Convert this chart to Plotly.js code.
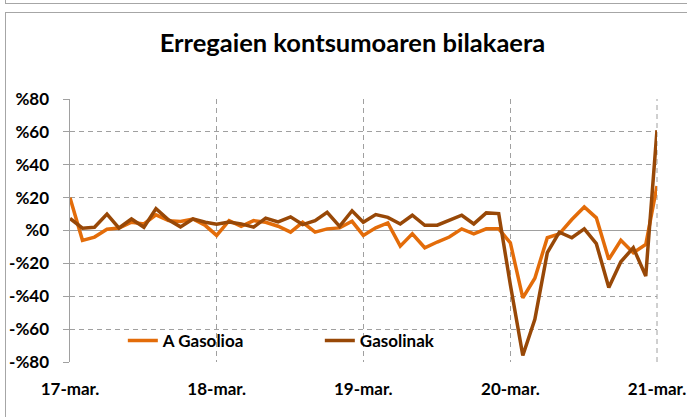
<!DOCTYPE html>
<html>
<head>
<meta charset="utf-8">
<script src="https://cdn.plot.ly/plotly-3.0.1.min.js"></script>
<style>
  html, body { margin: 0; padding: 0; background: #fff; }
  #wrap { position: relative; width: 687px; height: 417px; overflow: hidden; }
  #chart { position: absolute; left: 0; top: 0; width: 687px; height: 417px; }
  .frame { position: absolute; border: 1.5px solid #a6a6a6; pointer-events: none; }
</style>
</head>
<body>
<div id="wrap">
  <div id="chart"></div>
  <div class="frame" style="left:5px; top:-20px; width:700px; height:22px;"></div>
  <div class="frame" style="left:5px; top:12px; width:700px; height:420px;"></div>
</div>
<script>
// Months (March 2017 - March 2021)
const months = [
  '2017-03-01','2017-04-01','2017-05-01','2017-06-01','2017-07-01','2017-08-01','2017-09-01','2017-10-01','2017-11-01','2017-12-01','2018-01-01','2018-02-01',
  '2018-03-01','2018-04-01','2018-05-01','2018-06-01','2018-07-01','2018-08-01','2018-09-01','2018-10-01','2018-11-01','2018-12-01','2019-01-01','2019-02-01',
  '2019-03-01','2019-04-01','2019-05-01','2019-06-01','2019-07-01','2019-08-01','2019-09-01','2019-10-01','2019-11-01','2019-12-01','2020-01-01','2020-02-01',
  '2020-03-01','2020-04-01','2020-05-01','2020-06-01','2020-07-01','2020-08-01','2020-09-01','2020-10-01','2020-11-01','2020-12-01','2021-01-01','2021-02-01',
  '2021-03-01'
];

// A Gasolioa (%)
const aGasolioa = [
  20, -6, -4, 0.8, 1.5, 5, 4, 9.5, 6, 5.5, 7, 3,
  -3, 6, 2.6, 6, 5, 2.6, -1, 5, -1, 1, 1.6, 5.6,
  -3, 1.6, 4.6, -9.5, -2, -10.5, -7, -4, 1, -2, 1, 1,
  -7.5, -41, -29, -4.4, -2, 6.7, 14.3, 7.7, -17.6, -6, -13.5, -8.5,
  27
];

// Gasolinak (%)
const gasolinak = [
  7.3, 1.4, 2, 10, 1.5, 7, 2, 13.3, 6.5, 2.2, 7, 5,
  3.8, 5.2, 4, 2, 7.5, 5.2, 8.3, 3.6, 6, 11, 2.5, 12,
  5, 9.7, 8, 4, 9.3, 3.2, 3.2, 6.3, 9.3, 4, 10.7, 10.3,
  -33, -76, -54, -13.5, -1, -4.4, 1, -8, -34.7, -19, -10.5, -27.7,
  61
];

const seriesNames = ['A Gasolioa', 'Gasolinak'];
const seriesColors = ['#E36C09', '#984807'];

// Tick labels
const yTickVals = [-80, -60, -40, -20, 0, 20, 40, 60, 80];
const yTickText = ['-%80', '-%60', '-%40', '-%20', '%0', '%20', '%40', '%60', '%80'];
const xTickVals = ['2017-03-01', '2018-03-01', '2019-03-01', '2020-03-01', '2021-03-01'];
const xTickText = ['17-mar.', '18-mar.', '19-mar.', '20-mar.', '21-mar.'];
// Minor tick positions on the zero line (every 6 months)
const zeroTickVals = ['2017-09-01', '2018-03-01', '2018-09-01', '2019-03-01', '2019-09-01', '2020-03-01', '2020-09-01'];

const chartTitle = 'Erregaien kontsumoaren bilakaera';

const traces = [
  { x: months, y: aGasolioa, name: seriesNames[0], type: 'scatter', mode: 'lines',
    line: { color: seriesColors[0], width: 3.5 } },
  { x: months, y: gasolinak, name: seriesNames[1], type: 'scatter', mode: 'lines',
    line: { color: seriesColors[1], width: 3.5 } }
];

const gridColor = '#a0a0a0';
const font = { family: 'Lato, "Open Sans", sans-serif', size: 17, color: '#000', weight: 'bold' };

const layout = {
  width: 687, height: 417,
  margin: { l: 70, r: 30, t: 99, b: 55 },
  paper_bgcolor: '#fff', plot_bgcolor: '#fff',
  font: font,
  showlegend: true,
  title: {
    text: chartTitle,
    font: { family: 'Lato, "Open Sans", sans-serif', size: 25.5, color: '#000', weight: 'bold' },
    x: 0.513, xanchor: 'center', xref: 'container',
    y: 0.897, yanchor: 'middle', yref: 'container'
  },
  xaxis: {
    type: 'date',
    range: ['2017-03-01', '2021-03-01'],
    tickvals: xTickVals, ticktext: xTickText,
    showgrid: true, gridcolor: gridColor, gridwidth: 1, griddash: '5px,4px',
    showline: false, zeroline: false, ticks: '', ticklabelstandoff: 15,
    tickfont: font, fixedrange: true
  },
  xaxis2: {
    type: 'date',
    overlaying: 'x', anchor: 'free', position: 0.5, side: 'bottom',
    range: ['2017-03-01', '2021-03-01'],
    tickmode: 'array', tickvals: zeroTickVals, ticktext: zeroTickVals.map(() => ''),
    ticks: 'outside', ticklen: 5, tickwidth: 1, tickcolor: gridColor,
    showticklabels: false, showgrid: false, showline: false, zeroline: false, fixedrange: true
  },
  yaxis: {
    range: [-80, 80],
    tickvals: yTickVals, ticktext: yTickText,
    showgrid: true, gridcolor: gridColor, gridwidth: 1, griddash: '5px,4px',
    zeroline: true, zerolinecolor: gridColor, zerolinewidth: 1.5,
    showline: true, linecolor: gridColor, linewidth: 1.5,
    ticks: 'outside', ticklen: 6, tickcolor: gridColor, tickwidth: 1,
    ticklabelstandoff: 10,
    tickfont: font, fixedrange: true
  },
  shapes: [
    { type: 'rect', xref: 'paper', yref: 'paper', x0: -0.02, x1: 0.755, y0: 0.019, y1: 0.141,
      fillcolor: '#fff', line: { width: 0 }, layer: 'between' },
    { type: 'line', xref: 'paper', yref: 'paper', x0: 1, x1: 1, y0: 0, y1: 1,
      line: { color: gridColor, width: 1, dash: '5px,4px' }, layer: 'below' }
  ],
  legend: {
    orientation: 'h',
    x: 0.09, xanchor: 'left',
    y: 0.08, yanchor: 'middle',
    bgcolor: 'rgba(255,255,255,0)',
    font: font,
    entrywidth: 152, entrywidthmode: 'pixels',
    itemwidth: 30
  }
};

Plotly.newPlot('chart', traces, layout, { displayModeBar: false, staticPlot: true });
</script>
</body>
</html>
